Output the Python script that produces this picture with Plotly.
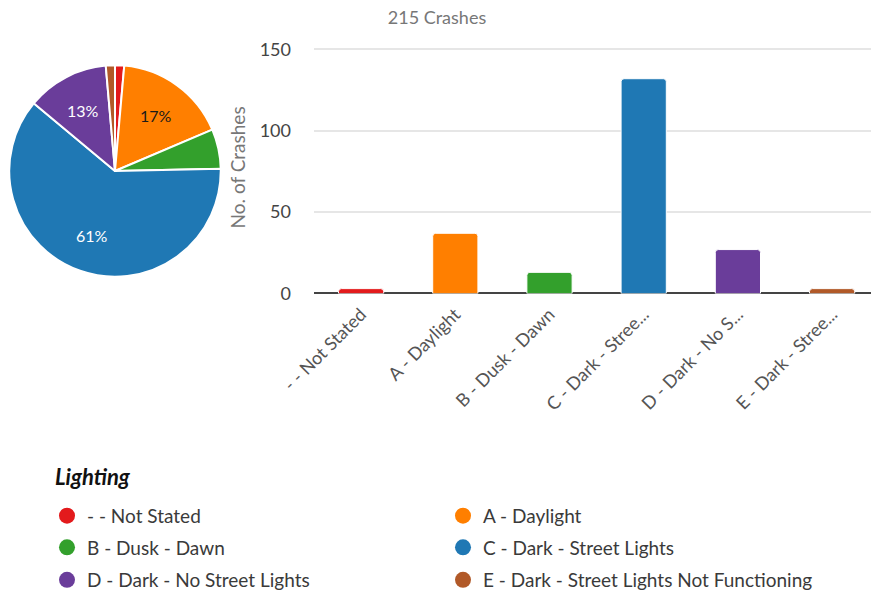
import math
import plotly.graph_objects as go

W, H = 871, 599

categories = ["- - Not Stated", "A - Daylight", "B - Dusk - Dawn",
              "C - Dark - Street Lights", "D - Dark - No Street Lights",
              "E - Dark - Street Lights Not Functioning"]
tick_labels = ["- - Not Stated", "A - Daylight", "B - Dusk - Dawn",
               "C - Dark - Stree...", "D - Dark - No S...", "E - Dark - Stree..."]
values = [3, 37, 13, 132, 27, 3]
colors = ["#e31a1c", "#ff7f00", "#33a02c", "#1f78b4", "#6a3d9a", "#b15928"]
pie_text_colors = ["#ffffff", "#1a1a1a", "#ffffff", "#ffffff", "#ffffff", "#ffffff"]
total = sum(values)

FONT = "Lato"
SY = 0.9866  # observed vertical rendering factor of the page


def px_x(p):
    return p / W


def px_y(p):
    return 1 - (p / SY) / H


fig = go.Figure()

# pie (screen geometry)
PIE_CX, PIE_CY, PIE_R = 115, 173, 107
fig.add_trace(go.Pie(
    labels=categories, values=values, sort=False, direction="clockwise", rotation=0,
    marker=dict(colors=colors, line=dict(color="white", width=2)),
    textinfo="none",
    domain=dict(x=[px_x(PIE_CX - PIE_R), px_x(PIE_CX + PIE_R)],
                y=[px_y(PIE_CY + PIE_R), px_y(PIE_CY - PIE_R)]),
    showlegend=False, hoverinfo="label+value+percent",
))

# percentage labels for large slices, placed at the slice mid-angle
annotations = []
cum = 0
for v, tc in zip(values, pie_text_colors):
    frac = v / total
    mid = (cum + frac / 2) * 2 * math.pi
    cum += frac
    if frac >= 0.1:
        rr = 0.65 * PIE_R
        annotations.append(dict(
            text=f"{round(frac * 100)}%", xref="paper", yref="paper",
            x=px_x(PIE_CX + rr * math.sin(mid)), y=px_y(PIE_CY - rr * math.cos(mid)),
            xanchor="center", yanchor="middle", showarrow=False,
            font=dict(family=FONT, size=16, color=tc),
        ))

# bars
fig.add_trace(go.Bar(
    x=list(range(len(categories))), y=values,
    marker=dict(color=colors, line=dict(color="white", width=1), cornerradius=3),
    width=0.48, showlegend=False, hovertext=categories,
))

# legend entries (dummy traces with circle markers), one legend per entry
col_x = [47, 443]
row_y = [522, 554, 587]
for i, (cat, col) in enumerate(zip(categories, colors)):
    lg = "legend" if i == 0 else f"legend{i + 1}"
    fig.add_trace(go.Scatter(
        x=[None], y=[None], mode="markers", name=cat,
        marker=dict(color=col, size=20, symbol="circle"),
        legend=lg, showlegend=True,
    ))
    r, c = divmod(i, 2)
    fig.update_layout({lg: dict(
        x=px_x(col_x[c]), y=px_y(row_y[r]), xanchor="left", yanchor="middle",
        bgcolor="rgba(0,0,0,0)", borderwidth=0,
        font=dict(family=FONT, size=19, color="#3a3a3a"),
        itemclick=False, itemdoubleclick=False,
    )})

annotations.append(dict(
    text="<b><i>Lighting</i></b>", x=px_x(53), y=px_y(482), xref="paper", yref="paper",
    xanchor="left", yanchor="middle", showarrow=False,
    font=dict(family=FONT, size=22, color="#111"),
))

band = 94.2
x_left_px, x_right_px = 314, 871
span = (x_right_px - x_left_px) / band

fig.update_layout(
    width=W, height=H,
    margin=dict(l=0, r=0, t=0, b=0),
    paper_bgcolor="white", plot_bgcolor="white",
    font=dict(family=FONT, color="#444"),
    title=dict(text="215 Crashes", x=px_x(437), xanchor="center", y=px_y(17), yanchor="middle",
               font=dict(family=FONT, size=18, color="#777")),
    xaxis=dict(
        domain=[px_x(x_left_px), px_x(x_right_px)], range=[-0.5, -0.5 + span],
        tickmode="array", tickvals=list(range(len(categories))), ticktext=tick_labels,
        tickangle=-45, tickfont=dict(family=FONT, size=18, color="#555"),
        ticklabelstandoff=6,
        showgrid=False, zeroline=False, showline=False, automargin=False,
        fixedrange=True,
    ),
    yaxis=dict(
        domain=[px_y(297), px_y(297 - 155 * 247 / 150)], range=[0, 155],
        tickvals=[0, 50, 100, 150], tickfont=dict(family=FONT, size=18, color="#444"),
        ticklabelstandoff=22,
        showgrid=True, gridcolor="#e6e6e6", gridwidth=1.5,
        zeroline=True, zerolinecolor="#444", zerolinewidth=1.5,
        title=dict(text="No. of Crashes", font=dict(family=FONT, size=19, color="#777"), standoff=9),
        automargin=False, fixedrange=True,
    ),
    annotations=annotations,
    bargap=0.5,
)

post = (
    "var s=document.documentElement.style, b=document.body.style;"
    "b.margin='0'; b.padding='0'; b.height='599px'; b.overflow='hidden';"
    "s.height='599px'; s.overflow='hidden';"
)
fig.write_html("out.html", config={"displayModeBar": False}, post_script=post)
